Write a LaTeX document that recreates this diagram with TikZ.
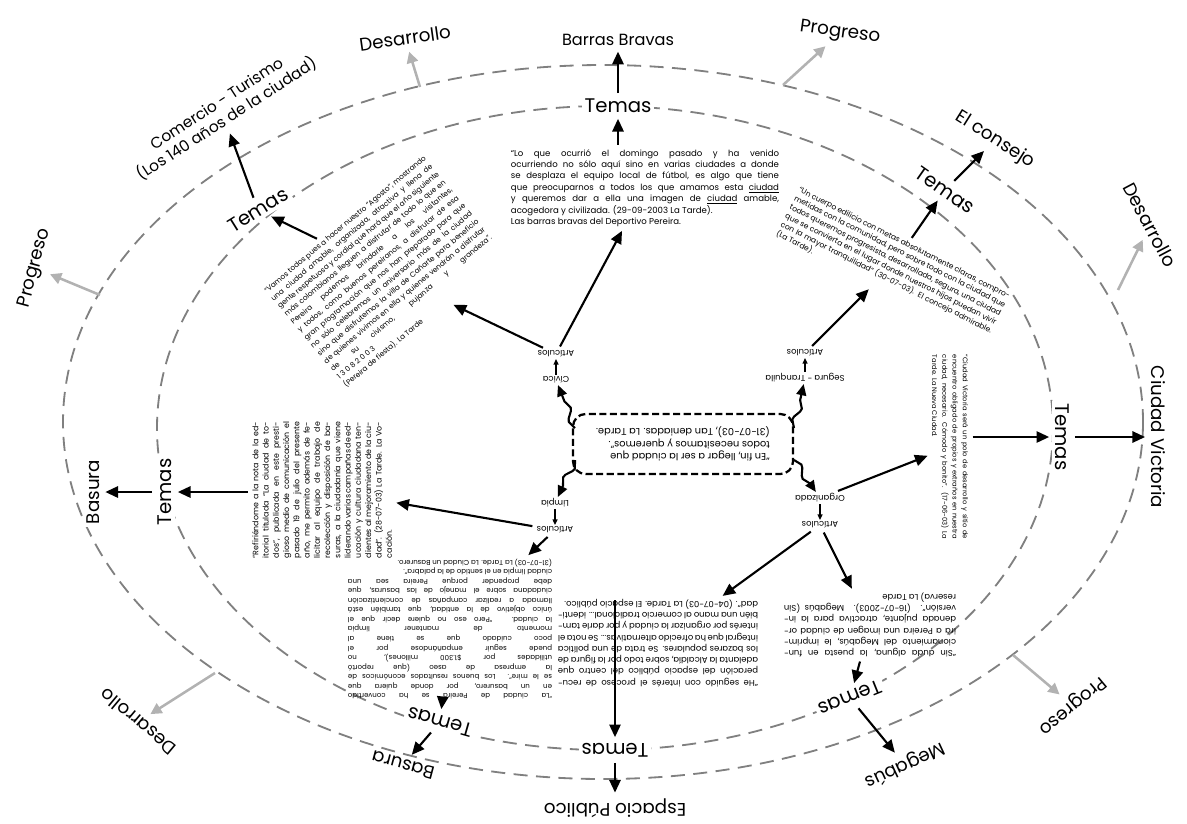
\documentclass[tikz,border=0pt]{standalone}
\usepackage{fontspec}
\setmainfont{Poppins}
\usepackage{tikz}
\usetikzlibrary{arrows.meta,decorations.pathmorphing}
\colorlet{g}{black!30}
\colorlet{e}{black!50}
\tikzset{blk/.style={align=justify, inner sep=1pt, text width=#1},
         tm/.style={font=\fontsize{14}{16}\selectfont, fill=white, inner sep=2pt},
         lb/.style={font=\fontsize{13}{15}\selectfont, fill=white, inner sep=2pt},
         sm/.style={font=\fontsize{6}{7}\selectfont, inner sep=1pt, rotate=180},
         elp/.style={draw=e, line width=1.3pt, dash pattern=on 10pt off 6pt},
         ar/.style={-{Triangle[length=9pt,width=8pt]}, line width=1.5pt, shorten >=2pt, shorten <=2pt},
         ars/.style={-{Triangle[length=4pt,width=3.5pt]}, line width=1pt},
         ga/.style={-{Triangle[length=8pt,width=8pt]}, line width=1.8pt, g, shorten >=3pt},
         wv/.style={-{Triangle[length=8pt,width=7pt]}, line width=1.5pt, decorate,
            decoration={snake, amplitude=2.5pt, segment length=18pt, post length=7pt}}}
\newcommand{\fa}{\fontsize{6.1}{8.1}\selectfont}
\newcommand{\fb}{\fontsize{5.2}{7.3}\selectfont}

\begin{document}
\begin{tikzpicture}[x=0.025cm, y=-0.025cm]
\useasboundingbox (0,0) rectangle (1187,823);
% elipses
\draw[elp] (603,422) ellipse [x radius=540, y radius=357];
\draw[elp] (605,428) ellipse [x radius=448, y radius=322];

% rotulos externos
\node[lb, font=\fontsize{11.5}{13}\selectfont] (bb) at (618,40) {Barras Bravas};
\node[lb] (dTL) at (405,38) [rotate=8] {Desarrollo};
\node[lb] (pTR) at (840,33) [rotate=-8] {Progreso};
\node[lb, align=center, font=\fontsize{11}{13}\selectfont] (ct) at (222,112) [rotate=33] {Comercio - Turismo\\(Los 140 años de la ciudad)};
\node[lb] (ec) at (995,140) [rotate=-32] {El consejo};
\node[lb] (dR) at (1150,225) [rotate=-62] {Desarrollo};
\node[lb] (pL) at (35,268) [rotate=75] {Progreso};
\node[lb] (cv) at (1158,437) [rotate=-90] {Ciudad Victoria};
\node[lb] (bs) at (93,492) [rotate=90] {Basura};
\node[lb] (dLL) at (138,722) [rotate=140] {Desarrollo};
\node[lb] (pLR) at (1072,705) [rotate=-140] {Progreso};
\node[lb] (bs2) at (403,765) [rotate=165] {Basura};
\node[lb] (ep) at (615,808) [rotate=180] {Espacio Público};
\node[lb] (mg) at (905,765) [rotate=-155] {Megabús};

% temas
\node[tm] (tT) at (618,106) {Temas};
\node[tm] (tUL) at (258,210) [rotate=32] {Temas};
\node[tm] (tUR) at (945,190) [rotate=-35] {Temas};
\node[tm] (tL) at (165,492) [rotate=90] {Temas};
\node[tm] (tR) at (1062,437) [rotate=-90] {Temas};
\node[tm] (tLL) at (440,722) [rotate=164] {Temas};
\node[tm] (tB) at (615,750) [rotate=180] {Temas};
\node[tm] (tLR) at (850,698) [rotate=-158] {Temas};

% citas
\node[blk=6.7cm, font=\fa] (qT) at (645,188) {“Lo que ocurrió el domingo pasado y ha venido\linebreak ocurriendo no sólo aquí sino en varias ciudades a donde\linebreak se desplaza el equipo local de fútbol, es algo que tiene\linebreak que preocuparnos a todos los que amamos esta \underline{ciudad}\linebreak y queremos dar a ella una imagen de \underline{ciudad} amable,\linebreak acogedora y civilizada. (29-09-2003 La Tarde).\\ Las barras bravas del Deportivo Pereira.};
\node[blk=5.2cm, font=\fb] (qUL) at (385,272) [rotate=40] {“Vamos todos pues a hacer nuestro “Agosto”, mostrando\linebreak una ciudad amable, organizada, atractiva y llena de\linebreak gente respetuosa y cordial que hará que el año siguiente\linebreak más colombianos lleguen a disfrutar de todo lo que en\linebreak Pereira podemos brindarle a los visitantes,\linebreak y todos, como buenos pereiranos, a disfrutar de esa\linebreak gran programación que nos han preparado para que\linebreak no sólo celebremos un aniversario más de la ciudad\linebreak sino que disfrutemos la villa de Cañarte para beneficio\linebreak de quienes vivimos en ella y quienes vendrán a disfrutar\linebreak de su civismo, pujanza y grandeza”.\linebreak 1 3 0 8 2 0 0 3\\ (Pereira de fiesta). La Tarde};
\node[blk=5.9cm, font=\fontsize{5.4}{7}\selectfont] (qUR) at (893,265) [rotate=-27] {“Un cuerpo edilicio con metas absolutamente claras, comprometidas con la comunidad, pero sobre todo con la ciudad que todos queremos progresista, desarrollada, segura, una ciudad que se convierta en el lugar donde nuestros hijos puedan vivir con la mayor tranquilidad” (30-07-03). El concejo admirable. (La Tarde).};
\node[blk=4.6cm, font=\fontsize{4.8}{7.3}\selectfont] (qR) at (950,447) [rotate=-90] {“Ciudad Victoria será un polo de desarrollo y sitio de encuentro obligado de propios y extraños en nuestra ciudad, necesario. Cómodo y bonito”. (17-06-03) La Tarde. La Nueva Ciudad.};
\node[blk=3.4cm, font=\fontsize{5.6}{7.3}\selectfont] (qL) at (322,490) [rotate=90] {“Refiriéndome a la nota de la editorial titulada “La ciudad de todos”, publicada en este prestigioso medio de comunicación el pasado 19 de julio del presente año, me permito además de felicitar al equipo de trabajo de recolección y disposición de basuras, a la ciudadanía que viene liderando varias campañas de educación y cultura ciudadana tendientes al mejoramiento de la ciudad”. (28-07-03) La Tarde. La Vocación.};
\node[blk=5.1cm, font=\fontsize{5}{6.8}\selectfont] (qLL) at (450,629) [rotate=180] {“La ciudad de Pereira se ha convertido\linebreak en un basurero, por donde quiera que\linebreak se le mire”. Los buenos resultados económicos de\linebreak la empresa de aseo (que reportó\linebreak utilidades por \$1.300 millones), no\linebreak puede seguir empañándose por el\linebreak poco cuidado que se tiene al\linebreak momento de mantener limpia\linebreak la ciudad. “Pero eso no quiere decir que el\linebreak único objetivo de la entidad, que también está\linebreak llamada a realizar campañas de concientización\linebreak ciudadana sobre el manejo de las basuras, que\linebreak debe propender porque Pereira sea una\linebreak ciudad limpia en el sentido de la palabra”.\\ (31-07-03) La Tarde. La Ciudad un Basurero.};
\node[blk=5cm, font=\fontsize{6}{8}\selectfont] (qLM) at (658,643) [rotate=180] {“He seguido con interés el proceso de recuperación del espacio público del centro que adelanta la Alcaldía, sobre todo por la figura de los bazares populares. Se trata de una política integral que ha ofrecido alternativas... Se nota el interés por organizar la ciudad y por darle también una mano al comercio tradicional... identidad”. (04-07-03) La Tarde. El espacio público.};
\node[blk=4.3cm, font=\fontsize{6}{8}\selectfont] (qLR) at (870,625) [rotate=180] {“Sin duda alguna, la puesta en funcionamiento del Megabús, le imprimirá a Pereira una imagen de ciudad ordenada pujante, atractiva para la inversión”. (16-07-2003). Megabús (Sin reserva) La Tarde};

% centro
\node[draw, line width=1.6pt, dash pattern=on 5pt off 2.5pt, rounded corners=9pt, rotate=180,
      minimum width=5.5cm, minimum height=1.5cm, align=left, font=\fontsize{7}{9}\selectfont] (bx) at (683,444)
      {“En fin, llegar a ser la ciudad que\\ todos necesitamos y queremos”.\\ (31-07-03), Tan deniadas. La Tarde.};
\node[sm] (civ) at (556,380) {Cívica};
\node[sm] (aC) at (556,354) {Artículos};
\node[sm] (seg) at (805,378) {Segura - Tranquila};
\node[sm] (aS) at (805,353) {Artículos};
\node[sm] (lim) at (555,503) {Limpia};
\node[sm] (aL) at (555,530) {Artículos};
\node[sm] (org) at (820,498) {Organizada};
\node[sm] (aO) at (820,525) {Artículos};
\coordinate (w1) at (575,428);
\coordinate (w2) at (575,460);
\coordinate (w3) at (794,428);
\coordinate (w4) at (794,460);

% ramas
\draw[wv] (w1) -- (civ);
\draw[wv] (w2) -- (lim);
\draw[wv] (w3) -- (seg);
\draw[wv] (w4) -- (org);
\draw[ars] (civ) -- (aC);
\draw[ars] (seg) -- (aS);
\draw[ars] (lim) -- (aL);
\draw[ars] (org) -- (aO);
\draw[ar] (aC) -- (qUL);
\draw[ar] (aC) -- (qT);
\draw[ar] (aS) -- (qUR);
\draw[ar] (aL) -- (qL);
\draw[ar] (aL) -- (qLL);
\draw[ar] (aO) -- (qLM);
\draw[ar] (aO) -- (qLR);
\draw[ar] (org) -- (qR);
\draw[ar] (qT.north -| tT) -- (tT);
\draw[ar] (tT) -- (bb);
\draw[ar] (qUL) -- (tUL);
\draw[ar] (tUL) -- (ct);
\draw[ar] (qUR) -- (tUR);
\draw[ar] (tUR) -- (ec);
\draw[ar] (qR.north |- tR) -- (tR);
\draw[ar] (tR) -- (cv);
\draw[ar] (qL.north |- tL) -- (tL);
\draw[ar] (tL) -- (bs);
\draw[ar] (qLL) -- (tLL);
\draw[ar] (tLL) -- (bs2);
\draw[ar] (qLM.south -| tB) -- (tB);
\draw[ar] (tB) -- (ep);
\draw[ar] (qLR) -- (tLR);
\draw[ar] (tLR) -- (mg);

% flechas grises
\coordinate (g1) at (420,87);
\coordinate (g2) at (783,85);
\coordinate (g3) at (1118,290);
\coordinate (g4) at (100,295);
\coordinate (g5) at (215,673);
\coordinate (g6) at (1013,655);
\draw[ga] (g1) -- (dTL);
\draw[ga] (g2) -- (pTR);
\draw[ga] (g3) -- (dR);
\draw[ga] (g4) -- (pL);
\draw[ga] (g5) -- (dLL);
\draw[ga] (g6) -- (pLR);
\end{tikzpicture}
\end{document}
